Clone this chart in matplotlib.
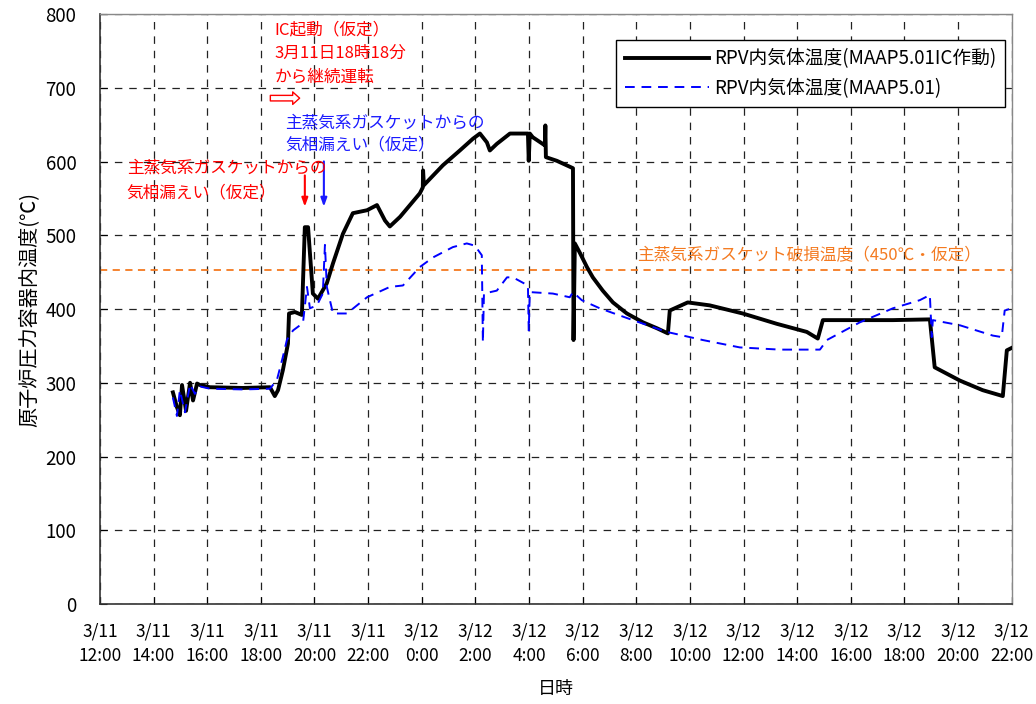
import numpy as np
import matplotlib
matplotlib.use('Agg')
import matplotlib.pyplot as plt

plt.rcParams['font.family'] = ['Noto Sans CJK JP', 'DejaVu Sans']

# 時間は 3/11 12:00 からの経過時間 [h]
ic_time = [2.72, 2.87, 2.98, 3.06, 3.21, 3.36, 3.47, 3.62, 3.73, 4.10, 5.33, 6.34, 6.52, 6.64,
           6.82, 7.01, 7.05, 7.27, 7.53, 7.64, 7.76, 7.94, 8.13, 8.46, 8.69, 9.06, 9.43, 9.96,
           10.33, 10.63, 10.81, 11.19, 11.93, 12.04, 12.05, 12.08, 12.79, 13.42, 13.91, 14.17,
           14.43, 14.54, 14.80, 15.29, 15.96, 15.99, 16.03, 16.14, 16.59, 16.61, 16.63, 17.04,
           17.64, 17.66, 17.71, 17.90, 18.16, 18.38, 18.75, 19.13, 19.65, 20.25, 20.77, 21.18,
           21.25, 21.92, 22.74, 23.97, 25.24, 26.36, 26.77, 26.96, 27.70, 29.57, 30.95, 31.13,
           32.07, 32.92, 33.67, 33.82, 34.04]
ic_temp = [287, 267, 256, 297, 262, 300, 276, 299, 297, 294, 293, 294, 282, 290,
           317, 353, 394, 396, 392, 511, 511, 421, 414, 435, 462, 502, 530, 534,
           541, 520, 512, 525, 557, 565, 588, 568, 595, 615, 631, 638,
           626, 615, 624, 638, 638, 601, 638, 633, 622, 649, 606, 601,
           591, 358, 489, 476, 457, 443, 425, 409, 394, 382, 374, 367,
           398, 409, 405, 394, 380, 369, 360, 385, 385, 385, 386, 321,
           303, 290, 282, 344, 348]

base_time = [2.72, 2.87, 2.98, 3.17, 3.36, 3.54, 3.73, 4.10, 5.33, 6.34, 6.60, 6.82, 6.97,
             7.20, 7.57, 7.72, 7.83, 8.09, 8.31, 8.39, 8.46, 8.69, 9.21, 9.96, 10.81, 11.30,
             11.93, 12.42, 13.16, 13.68, 13.98, 14.24, 14.28, 14.32, 14.80, 15.18, 15.40, 15.96,
             15.99, 16.03, 16.89, 17.52, 17.64, 17.97, 18.64, 19.87, 21.14, 22.48, 23.86, 25.35,
             26.85, 27.11, 28.34, 29.57, 30.57, 30.95, 31.02, 31.06, 32.07, 33.30, 33.63, 33.74, 34.00]
base_temp = [280, 255, 290, 260, 298, 285, 295, 292, 291, 292, 304, 335, 358,
             371, 381, 430, 401, 405, 421, 487, 430, 394, 394, 416, 430, 432,
             457, 470, 484, 489, 486, 473, 355, 421, 425, 443, 443, 432,
             371, 423, 421, 416, 423, 412, 401, 385, 369, 358, 348, 345,
             345, 358, 382, 401, 412, 419, 362, 385, 378, 364, 362, 398, 401]

tick_hours = np.arange(0, 35, 2)
tick_labels = ['3/11\n12:00', '3/11\n14:00', '3/11\n16:00', '3/11\n18:00', '3/11\n20:00',
               '3/11\n22:00', '3/12\n0:00', '3/12\n2:00', '3/12\n4:00', '3/12\n6:00',
               '3/12\n8:00', '3/12\n10:00', '3/12\n12:00', '3/12\n14:00', '3/12\n16:00',
               '3/12\n18:00', '3/12\n20:00', '3/12\n22:00']
gasket_limit = 453

fig = plt.figure(figsize=(10.36, 7.04), dpi=100)
ax = fig.add_axes([0.0965, 0.142, 0.880, 0.838])

ax.plot(ic_time, ic_temp, color='black', lw=2.8, zorder=3,
        label='RPV内気体温度(MAAP5.01IC作動)')
ax.plot(base_time, base_temp, color='#0000ff', lw=1.4, ls=(0, (5, 3.5)), zorder=4,
        label='RPV内気体温度(MAAP5.01)')
ax.axhline(gasket_limit, color='#f47a20', lw=1.3, ls=(0, (4, 3)), zorder=2)

ax.set_xlim(0, 34)
ax.set_ylim(0, 800)
ax.set_xticks(tick_hours)
ax.set_xticklabels(tick_labels, fontsize=12.5, linespacing=1.5)
ax.set_yticks(np.arange(0, 801, 100))
ax.tick_params(axis='y', direction='in', length=5, pad=17, labelsize=13.5)
ax.tick_params(axis='x', direction='in', length=5, pad=13)
ax.grid(True, color='#222222', lw=0.9, ls=(0, (6, 5.5)))
ax.set_axisbelow(True)
for s in ['left', 'bottom']:
    ax.spines[s].set_color('#333333')
    ax.spines[s].set_linewidth(1.2)
for s in ['top', 'right']:
    ax.spines[s].set_color('#888888')
    ax.spines[s].set_linewidth(1.0)

ax.set_ylabel('原子炉圧力容器内温度(℃)', fontsize=14.5, labelpad=4)
ax.set_xlabel('日時', fontsize=13, labelpad=11)

leg = ax.legend(loc='upper right', bbox_to_anchor=(0.993, 0.956), fontsize=13.5,
                fancybox=False, edgecolor='black', framealpha=1, handlelength=4.5,
                borderpad=0.45, labelspacing=0.45, handletextpad=0.3, borderaxespad=0)
leg.get_frame().set_linewidth(1.0)

# 注記
ax.text(6.52, 778, 'IC起動（仮定）', color='red', fontsize=12, va='center')
ax.text(6.52, 747, '3月11日18時18分', color='red', fontsize=12, va='center')
ax.text(6.52, 714, 'から継続運転', color='red', fontsize=12, va='center')
ax.annotate('', xy=(7.55, 686), xytext=(6.25, 686),
            arrowprops=dict(arrowstyle='simple,head_length=0.5,head_width=0.9,tail_width=0.4',
                            fc='white', ec='red', lw=1.0))

ax.text(6.9, 652, '主蒸気系ガスケットからの', color='#1a1aff', fontsize=12, va='center')
ax.text(6.9, 622, '気相漏えい（仮定）', color='#1a1aff', fontsize=12, va='center')
ax.annotate('', xy=(8.35, 535), xytext=(8.35, 604),
            arrowprops=dict(arrowstyle='-|>,head_length=0.5,head_width=0.18',
                            color='#1a1aff', lw=1.5))

ax.text(1.0, 591, '主蒸気系ガスケットからの', color='red', fontsize=12, va='center')
ax.text(1.0, 558, '気相漏えい（仮定）', color='red', fontsize=12, va='center')
ax.annotate('', xy=(7.64, 535), xytext=(7.64, 585),
            arrowprops=dict(arrowstyle='-|>,head_length=0.5,head_width=0.18',
                            color='red', lw=1.5))

ax.text(20.02, 473, '主蒸気系ガスケット破損温度（450℃・仮定）', color='#f47a20',
        fontsize=12, va='center')

fig.savefig('out.png', dpi=100)
